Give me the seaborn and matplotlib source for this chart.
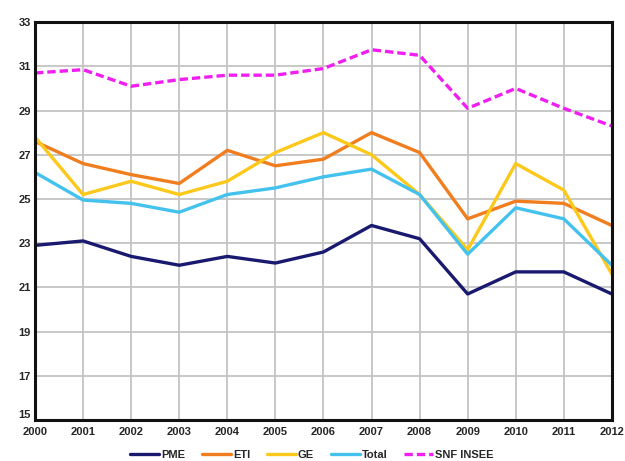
import pandas as pd
import matplotlib as mpl
mpl.use('Agg')
from matplotlib import pyplot as plt
import seaborn as sns

years = list(range(2000, 2013))
pme = [22.9, 23.1, 22.4, 22.0, 22.4, 22.1, 22.6, 23.8, 23.2, 20.7, 21.7, 21.7, 20.7]
eti = [27.6, 26.6, 26.1, 25.7, 27.2, 26.5, 26.8, 28.0, 27.1, 24.1, 24.9, 24.8, 23.8]
ge = [27.8, 25.2, 25.8, 25.2, 25.8, 27.1, 28.0, 27.0, 25.2, 22.7, 26.6, 25.4, 21.6]
total = [26.2, 24.95, 24.8, 24.4, 25.2, 25.5, 26.0, 26.35, 25.2, 22.5, 24.6, 24.1, 22.0]
snf = [30.7, 30.85, 30.1, 30.4, 30.6, 30.6, 30.9, 31.75, 31.5, 29.1, 30.0, 29.1, 28.3]

series_names = ['PME', 'ETI', 'GE', 'Total', 'SNF INSEE']
series_vals = [pme, eti, ge, total, snf]
colors = ['#191970', '#f07d1e', '#fcc81a', '#44c2ee', '#f01ef0']

rows = []
for name, vals in zip(series_names, series_vals):
    for y, v in zip(years, vals):
        rows.append({'year': y, 'value': v, 'serie': name})
data = pd.DataFrame(rows)

sns.set_style('white')
plt.rcParams['font.family'] = ['Liberation Sans', 'DejaVu Sans']

fig = plt.figure(figsize=(6.25, 4.61), dpi=100)
ax = fig.add_axes([0.056, 0.089, 0.923, 0.863])

for name, col in zip(series_names, colors):
    sub = data[data.serie == name]
    ls = (0, (2.5, 1.2)) if name == 'SNF INSEE' else '-'
    sns.lineplot(x='year', y='value', data=sub, color=col, lw=2.4,
                 linestyle=ls, label=name, ax=ax)

ax.set_xlim(2000, 2012)
ax.set_ylim(15, 33)
ax.set_xticks(years)
ax.set_yticks(range(15, 34, 2))
ax.grid(True, color='#c4c4c4', lw=1.3)
ax.set_axisbelow(True)
ax.set_xlabel('')
ax.set_ylabel('')
for s in ax.spines.values():
    s.set_color('#111111')
    s.set_linewidth(2.2)
ax.tick_params(axis='both', labelsize=8, length=0)
ax.tick_params(axis='x', pad=5)
ax.tick_params(axis='y', pad=3)
for t in ax.get_xticklabels() + ax.get_yticklabels():
    t.set_fontweight('bold')
# lift the lowest y label a bit so it clears the first year label
ax.get_yticklabels()[0].set_va('bottom')

ax.legend(loc='upper center', bbox_to_anchor=(0.48, -0.05), ncol=5,
          frameon=False, handlelength=2.6, columnspacing=1.5,
          handletextpad=0.2, prop={'weight': 'bold', 'size': 8})

fig.savefig('out.png', dpi=100)
